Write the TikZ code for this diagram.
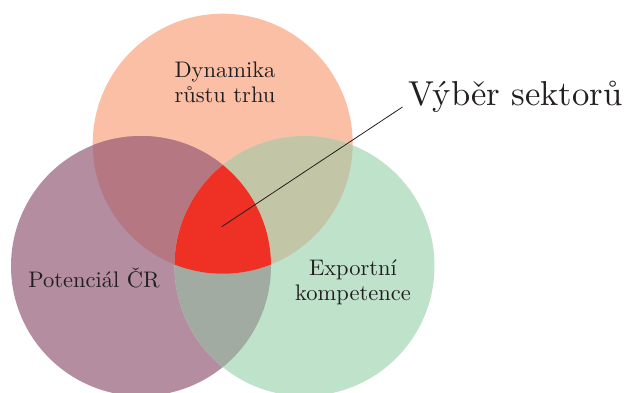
\documentclass[tikz,border=0pt]{standalone}
\usepackage{fontspec}
\setmainfont{lmroman10-regular}[Extension = .otf]
\usepackage{tikz}
\usetikzlibrary{positioning}
\definecolor{growthColor}{RGB}{251,191,166}
\definecolor{potentialColor}{RGB}{180,142,160}
\definecolor{exportColor}{RGB}{191,226,203}
\definecolor{growthPotentialColor}{RGB}{181,120,130}
\definecolor{growthExportColor}{RGB}{195,198,166}
\definecolor{potentialExportColor}{RGB}{162,171,162}
\definecolor{selectionColor}{RGB}{238,49,36}
\definecolor{textColor}{RGB}{35,31,32}
\tikzstyle{venn} = [x = 1pt, y = -1pt]
\tikzstyle{circleText} = [inner sep = 0pt, align = center, font = \fontsize{22.5}{25}\selectfont, text = textColor]
\tikzstyle{titleText} = [inner sep = 0pt, font = \fontsize{34.6}{40}\selectfont, text = textColor]
\tikzstyle{pointerLine} = [color = textColor, line width = .8pt]
\newcommand{\growthCircle}{(222.7, 143.7) circle (130pt)}
\newcommand{\potentialCircle}{(141, 266) circle (130pt)}
\newcommand{\exportCircle}{(304.5, 266) circle (130pt)}
\begin{document}
\begin{tikzpicture}[venn]
  \useasboundingbox (0,0) rectangle (624,392);
  \clip (0,0) rectangle (624,392);
  % single circles
  \fill [growthColor] \growthCircle;
  \fill [potentialColor] \potentialCircle;
  \fill [exportColor] \exportCircle;
  % overlaps
  \begin{scope}
    \clip \potentialCircle;
    \fill [potentialExportColor] \exportCircle;
  \end{scope}
  \begin{scope}
    \clip \growthCircle;
    \fill [growthPotentialColor] \potentialCircle;
    \fill [growthExportColor] \exportCircle;
    \clip \potentialCircle;
    \fill [selectionColor] \exportCircle;
  \end{scope}
  % labels
  \node [circleText, anchor = north] (growth) at (225, 61.5) {Dynamika\\růstu trhu};
  \node [circleText, anchor = base] (potential) at (94, 287) {Potenciál ČR};
  \node [circleText, anchor = north] (export) at (353, 259.8) {Exportní\\kompetence};
  \node [titleText, anchor = base west] (selection) at (408.5, 105) {Výběr sektorů};
  \coordinate (selectionCenter) at (221.7, 226.7);
  \draw [pointerLine] (selectionCenter) -- ([shift = {(-6, 2)}] selection.base west);
\end{tikzpicture}
\end{document}
